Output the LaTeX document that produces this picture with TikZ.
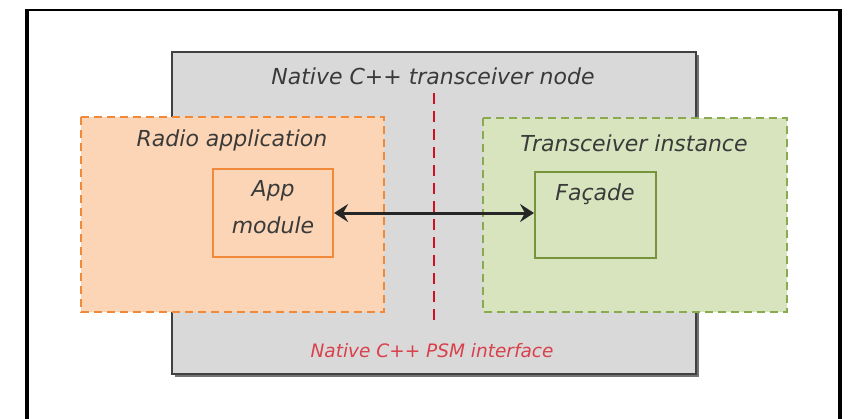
\documentclass[tikz,border=0pt]{standalone}
\usepackage{fontspec}
\setmainfont{DejaVu Sans}
\usetikzlibrary{arrows.meta}
\definecolor{frameC}{HTML}{000000}
\definecolor{greyFill}{HTML}{D9D9D9}
\definecolor{greyLine}{HTML}{404040}
\definecolor{orFill}{HTML}{FBD5B5}
\definecolor{orLine}{HTML}{F08A3A}
\definecolor{grFill}{HTML}{D7E4BD}
\definecolor{grLine}{HTML}{8AAA4F}
\definecolor{grSolid}{HTML}{77933C}
\definecolor{txtC}{HTML}{3A3A3A}
\definecolor{redC}{HTML}{D01020}
\tikzset{
  lbl/.style={font=\fontsize{22}{26}\selectfont\itshape, text=txtC, inner sep=0pt},
  redlbl/.style={font=\fontsize{18.5}{22}\selectfont\itshape, text=redC!80, inner sep=0pt},
  dashbox/.style={line width=2.4pt, dash pattern=on 8pt off 5pt},
  bigtip/.tip={Stealth[length=14pt,width=18pt,inset=5pt]},
}
\begin{document}
\begin{tikzpicture}[x=1pt,y=-1pt]
\useasboundingbox (0,0) rectangle (849,418);
% outer frame
\draw[line width=4pt, frameC] (27,10) -- (27,430);
\draw[line width=4pt, frameC] (840,10) -- (840,430);
\draw[line width=2.5pt, frameC] (25,10) -- (842,10);
% grey node
\fill[black!55] (174.5,54.5) rectangle (698.5,376.5);
\draw[greyLine, line width=2.2pt, fill=greyFill] (172,52) rectangle (696,374);
\node[lbl] (nodelbl) at (433,76) {Native C++ transceiver node};
% orange box
\draw[orLine, dashbox, fill=orFill] (81,117) rectangle (384,312);
\node[lbl] (radiolbl) at (232,140) {Radio application};
% green box
\draw[grLine, dashbox, fill=grFill] (483,118) rectangle (787,312);
\node[lbl] (translbl) at (634,143) {Transceiver instance};
% red dashed line
\coordinate (rtop) at (434,93);
\coordinate (rbot) at (434,322);
\draw[redC, line width=2.2pt, dash pattern=on 11pt off 7pt] (rtop) -- (rbot);
% app module
\node[draw=orLine, line width=2.2pt, fill=orFill, minimum width=120pt, minimum height=88pt, inner sep=0pt] (app) at (273,213) {};
\node[lbl] (applbl1) at (273,191) {App};
\node[lbl] (applbl2) at (273,225) {module};
% facade
\node[draw=grSolid, line width=2pt, fill=grFill, minimum width=121pt, minimum height=86pt, inner sep=0pt] (fac) at (595.5,215) {};
\node[lbl] (faclbl) at (595,194) {Façade};
% arrow
\draw[bigtip-bigtip, line width=3pt, black!85] (app.east |- 0,213) -- (fac.west |- 0,213);
% interface label
\node[redlbl] (psm) at (432,351) {Native C++ PSM interface};
\end{tikzpicture}
\end{document}
